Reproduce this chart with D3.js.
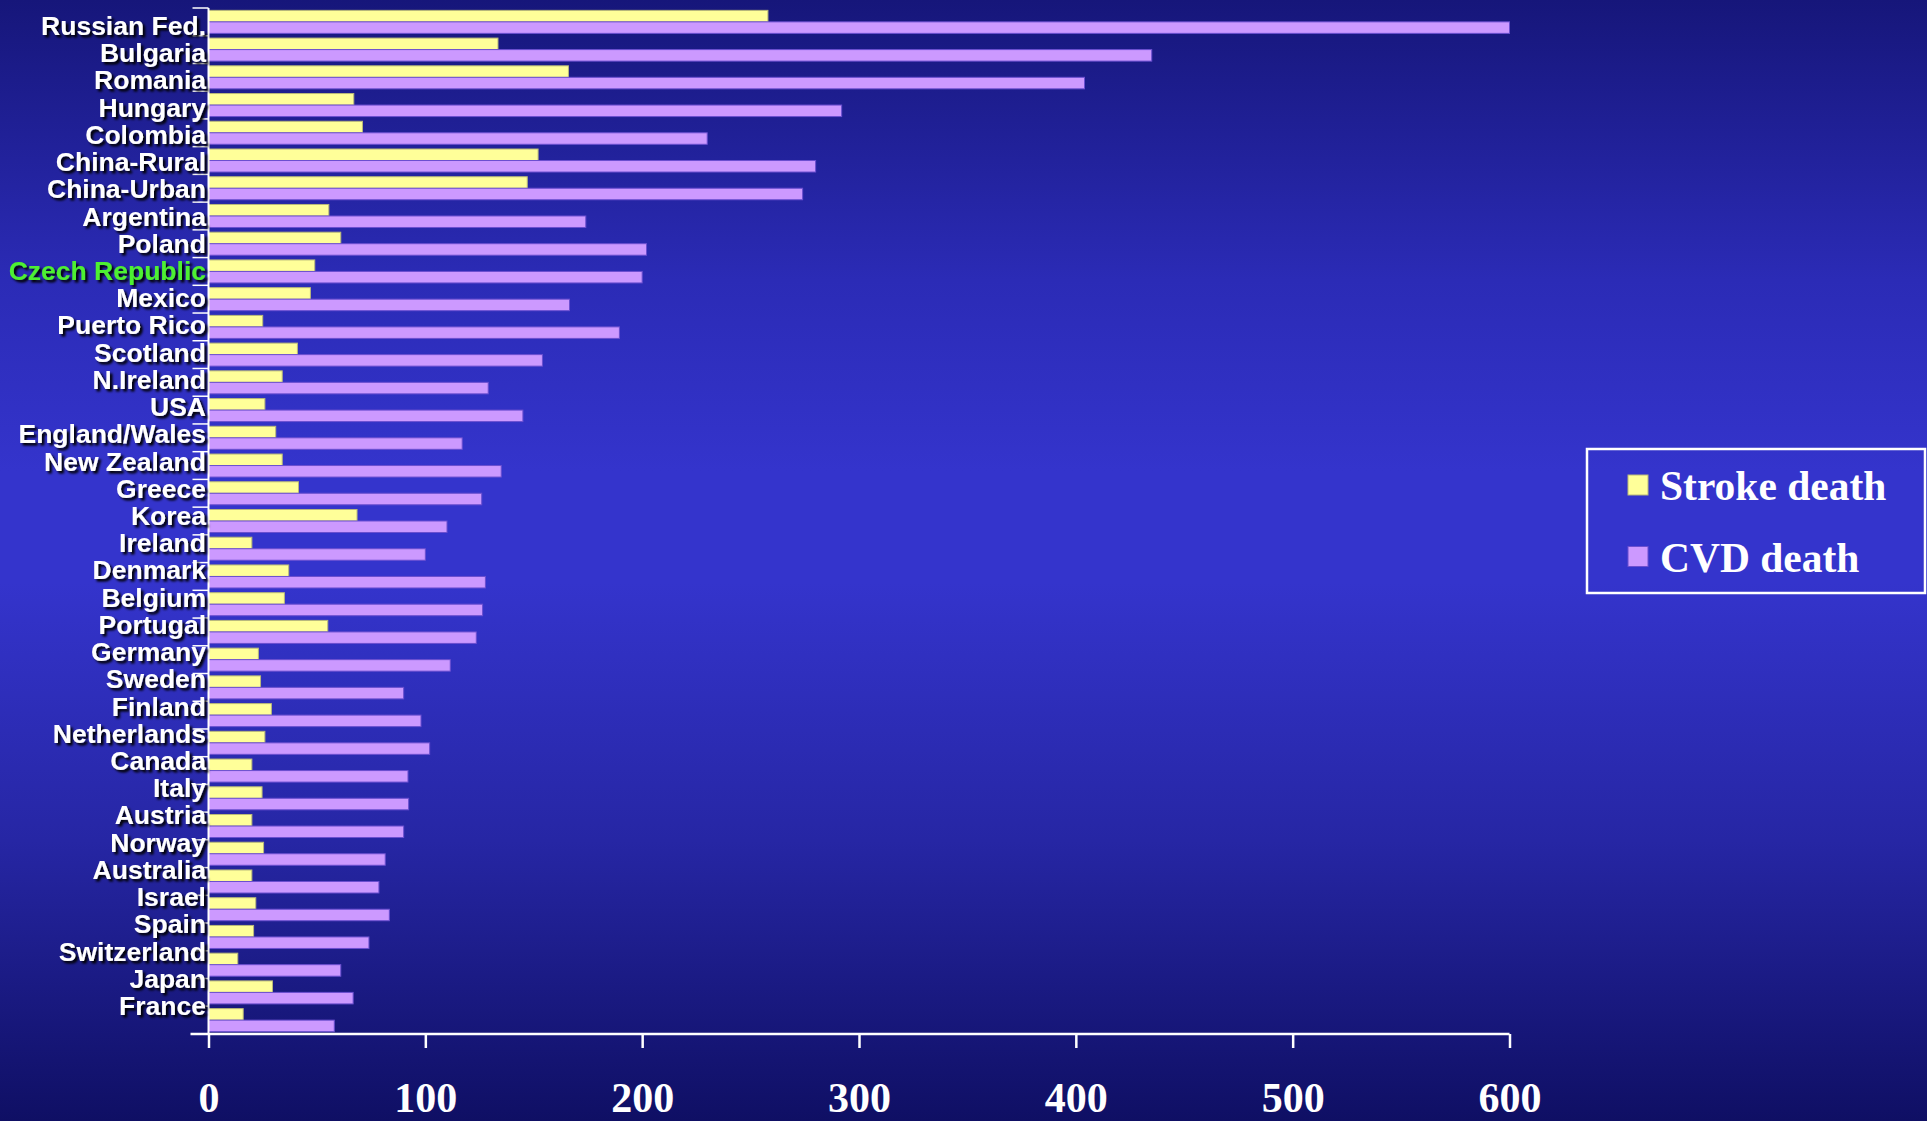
<!DOCTYPE html>
<html>
<head>
<meta charset="utf-8">
<script src="https://cdn.jsdelivr.net/npm/d3@7"></script>
<style>
  html, body { margin: 0; padding: 0; overflow: hidden; background: #2222a0; }
  svg { display: block; }
</style>
</head>
<body>
<div id="chart"></div>
<script>
// ---- data ----
const countries = ["Russian Fed.", "Bulgaria", "Romania", "Hungary", "Colombia", "China-Rural",
  "China-Urban", "Argentina", "Poland", "Czech Republic", "Mexico", "Puerto Rico", "Scotland",
  "N.Ireland", "USA", "England/Wales", "New Zealand", "Greece", "Korea", "Ireland", "Denmark",
  "Belgium", "Portugal", "Germany", "Sweden", "Finland", "Netherlands", "Canada", "Italy",
  "Austria", "Norway", "Australia", "Israel", "Spain", "Switzerland", "Japan", "France"];
const strokeDeath = [258, 133.5, 166, 67, 71, 152, 147, 55.5, 61, 49, 47, 25, 41, 34, 26, 31, 34,
  41.5, 68.5, 20, 37, 35, 55, 23, 24, 29, 26, 20, 24.7, 20, 25.4, 20, 21.8, 20.8, 13.5, 29.5, 16];
const cvdDeath = [600, 435, 404, 292, 230, 280, 274, 174, 202, 200, 166.5, 189.5, 154, 129, 145,
  117, 135, 126, 110, 100, 127.7, 126.4, 123.5, 111.5, 90, 98, 102, 92, 92.3, 90, 81.5, 78.6,
  83.4, 74, 61, 66.7, 58];
const seriesNames = ["Stroke death", "CVD death"];
const seriesColors = ["#ffff99", "#cc99ff"];
const seriesStrokes = ["#b9b97a", "#6b4fd0"];
const xTicks = [0, 100, 200, 300, 400, 500, 600];
const highlight = "Czech Republic";

// ---- layout ----
const W = 1927, H = 1121;
const svg = d3.select("#chart").append("svg").attr("width", W).attr("height", H);
const defs = svg.append("defs");
const grad = defs.append("linearGradient").attr("id", "bg").attr("x1", 0).attr("y1", 0).attr("x2", 0).attr("y2", 1);
[[0, "#16167a"], [0.25, "#2b2bb6"], [0.42, "#3434cc"], [0.52, "#3434cc"], [0.75, "#2626a4"], [1, "#0f0f64"]]
  .forEach(([o, c]) => grad.append("stop").attr("offset", o).attr("stop-color", c));
const shadow = defs.append("filter").attr("id", "shadow").attr("x", "-10%").attr("y", "-30%").attr("width", "130%").attr("height", "170%");
shadow.append("feDropShadow").attr("dx", 2.5).attr("dy", 2.5).attr("stdDeviation", 0.8)
  .attr("flood-color", "#000000").attr("flood-opacity", 1);

svg.append("rect").attr("width", W).attr("height", H).attr("fill", "url(#bg)");

const x = d3.scaleLinear().domain([0, 600]).range([208.5, 1509.5]);
const y = d3.scaleBand().domain(countries).range([8, 1034]).paddingInner(0.17).paddingOuter(0.085);
const sub = d3.scaleBand().domain(seriesNames).range([0, y.bandwidth()]);
const labelY = d3.scalePoint().domain(countries).range([35, 1015]);

const rows = countries.map((c, i) => ({ country: c, values: [strokeDeath[i], cvdDeath[i]] }));

// bars
const g = svg.append("g");
const rowG = g.selectAll("g.row").data(rows).join("g").attr("class", "row")
  .attr("transform", d => `translate(0,${y(d.country)})`);
rowG.selectAll("rect").data(d => d.values.map((v, k) => ({ v, k })))
  .join("rect")
  .attr("x", x(0))
  .attr("y", d => sub(seriesNames[d.k]))
  .attr("width", d => x(d.v) - x(0))
  .attr("height", sub.bandwidth())
  .attr("fill", d => seriesColors[d.k])
  .attr("stroke", d => seriesStrokes[d.k])
  .attr("stroke-width", 1);

// y axis line and boundary ticks
const yAxisX = x(0);
const bottomY = 1034;
svg.append("line").attr("x1", yAxisX).attr("x2", yAxisX).attr("y1", 8).attr("y2", bottomY)
  .attr("stroke", "#ffffff").attr("stroke-width", 2);
const gapHalf = (y.step() - y.bandwidth()) / 2;
const boundaries = countries.map(c => y(c) - gapHalf);
svg.append("g").selectAll("line").data(boundaries).join("line")
  .attr("x1", yAxisX - 16).attr("x2", yAxisX)
  .attr("y1", d => d).attr("y2", d => d)
  .attr("stroke", "#ffffff").attr("stroke-width", 1.5);

// category labels
svg.append("g").attr("filter", "url(#shadow)")
  .selectAll("text").data(countries).join("text")
  .attr("x", 206)
  .attr("y", d => labelY(d))
  .attr("text-anchor", "end")
  .attr("font-family", "'Liberation Sans', Arial, sans-serif")
  .attr("font-weight", "bold")
  .attr("font-size", 26.5)
  .attr("fill", d => d === highlight ? "#4ef030" : "#ffffff")
  .text(d => d);

// x axis
const xAxis = d3.axisBottom(x).tickValues(xTicks).tickSize(14).tickSizeOuter(0).tickFormat(d3.format("d"));
const xg = svg.append("g").attr("transform", `translate(0,${bottomY})`).call(xAxis);
xg.select(".domain").remove();
xg.append("line").attr("x1", x(0) - 18).attr("x2", x(600)).attr("y1", 0).attr("y2", 0)
  .attr("stroke", "#ffffff").attr("stroke-width", 2.5);
xg.selectAll(".tick line").attr("stroke", "#ffffff").attr("stroke-width", 2.5);
xg.selectAll(".tick text")
  .attr("y", 78).attr("dy", 0)
  .attr("fill", "#ffffff")
  .attr("font-family", "'Liberation Serif', 'Times New Roman', serif")
  .attr("font-weight", "bold")
  .attr("font-size", 42);

// legend
const lg = svg.append("g");
lg.append("rect").attr("x", 1587).attr("y", 449).attr("width", 338).attr("height", 144)
  .attr("fill", "none").attr("stroke", "#ffffff").attr("stroke-width", 2.5);
const legendRows = [500, 571.5];
seriesNames.forEach((name, k) => {
  lg.append("rect").attr("x", 1628).attr("y", legendRows[k] - 25).attr("width", 20).attr("height", 20)
    .attr("fill", seriesColors[k]).attr("stroke", seriesStrokes[k]).attr("stroke-width", 1);
  lg.append("text").attr("x", 1660).attr("y", legendRows[k])
    .attr("fill", "#ffffff")
    .attr("font-family", "'Liberation Serif', 'Times New Roman', serif")
    .attr("font-weight", "bold")
    .attr("font-size", 41.5)
    .text(name);
});
</script>
</body>
</html>
